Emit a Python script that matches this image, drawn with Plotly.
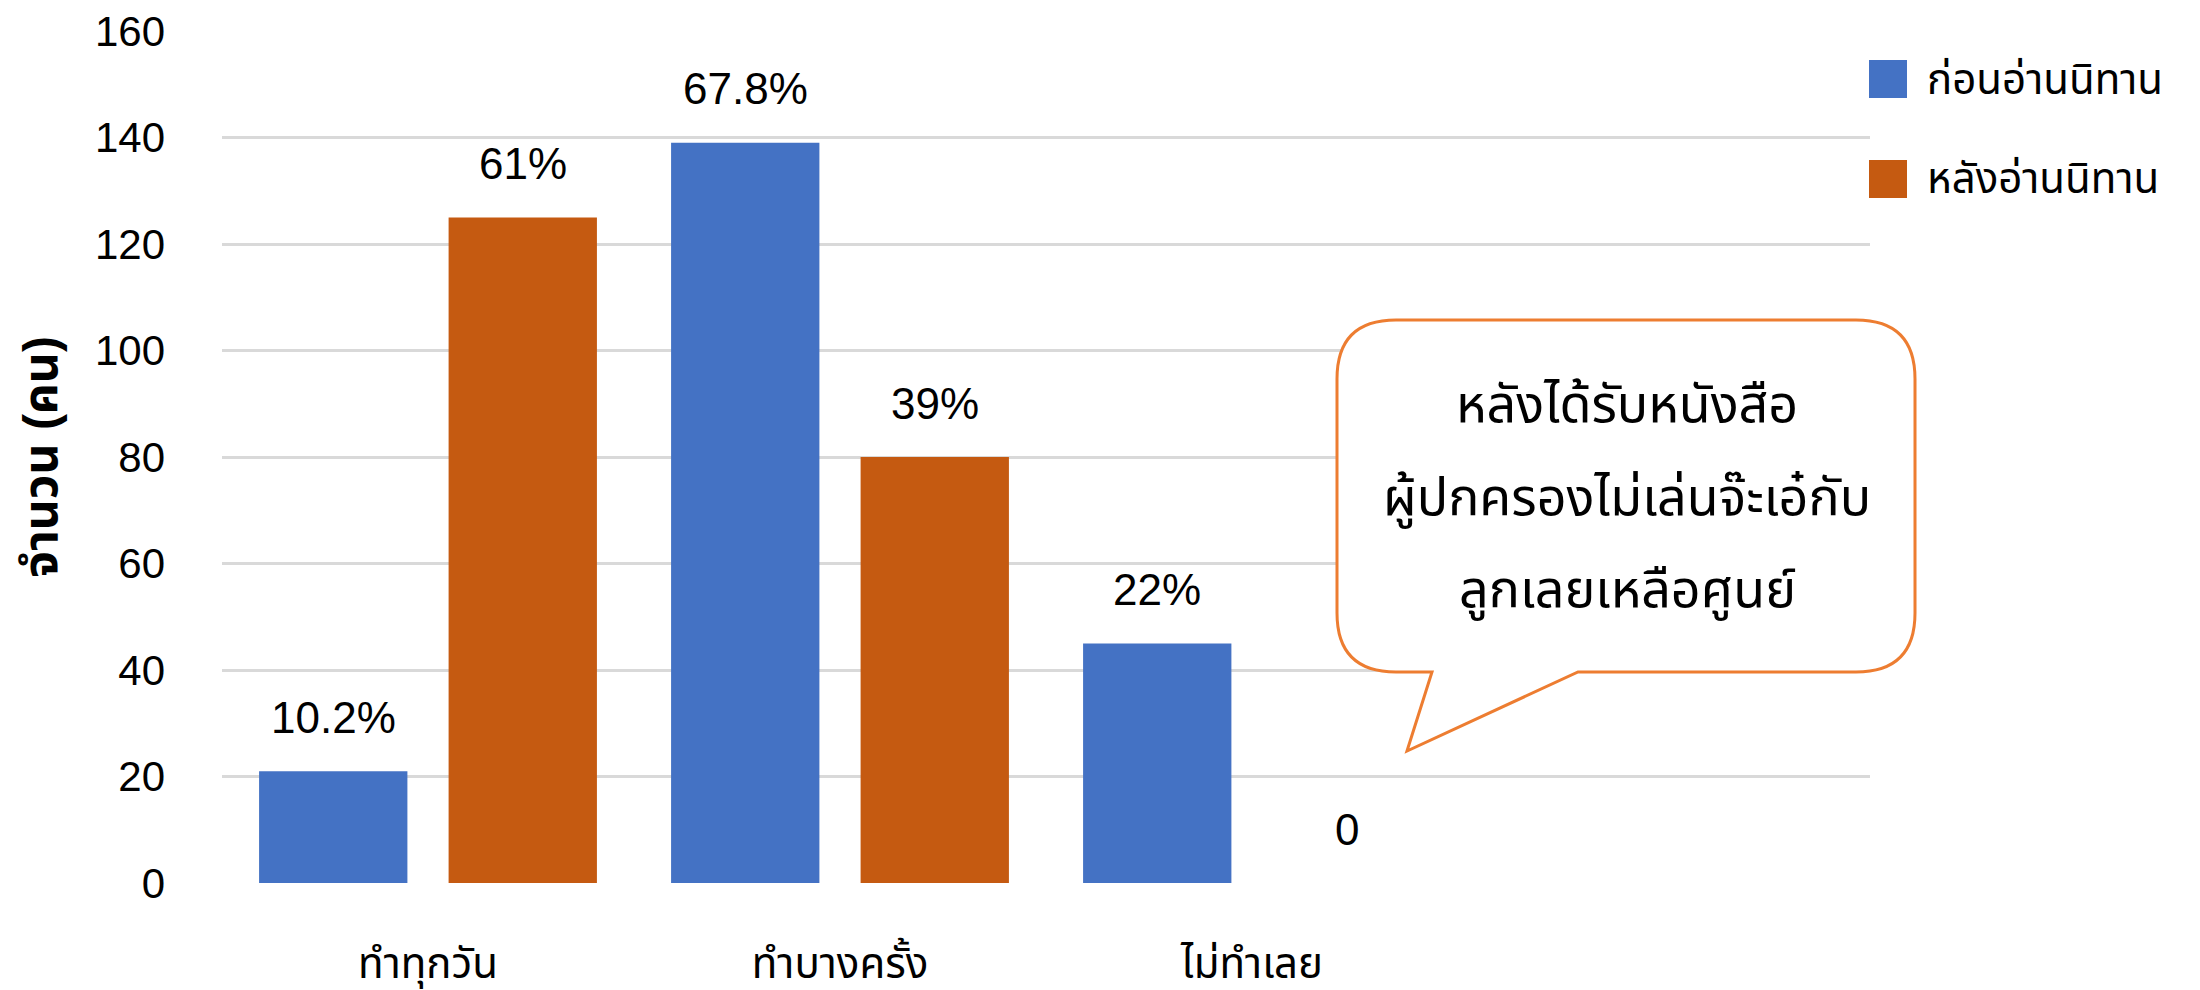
import plotly.graph_objects as go

# ---------------- data ----------------
categories = ["ทำทุกวัน", "ทำบางครั้ง", "ไม่ทำเลย"]
series_names = ["ก่อนอ่านนิทาน", "หลังอ่านนิทาน"]
before_values = [21, 139, 45]
after_values = [125, 80, 0]
before_labels = ["10.2%", "67.8%", "22%"]
after_labels = ["61%", "39%", "0"]
y_tick_values = [0, 20, 40, 60, 80, 100, 120, 140, 160]
y_title = "<b>จำนวน (คน)</b>"
callout_lines = ["หลังได้รับหนังสือ", "ผู้ปกครองไม่เล่นจ๊ะเอ๋กับ", "ลูกเลยเหลือศูนย์"]

# ---------------- style ----------------
W, H = 2200, 990
ML, MR, MT, MB = 222, 330, 31, 107
PW, PH = W - ML - MR, H - MT - MB
BLUE = "#4472C4"
ORANGE = "#C55A11"
CALLOUT = "#ED7D31"
GRID = "#D9D9D9"
FONT = "Liberation Sans, Noto Sans Thai, Noto Sans, sans-serif"
FS = 42

BAR_W = 0.36
OFF_BEFORE = -0.41
OFF_AFTER = 0.05


def px(x):
    return (x - ML) / PW


def py(y):
    return (H - MB - y) / PH


fig = go.Figure()
fig.add_trace(go.Bar(x=categories, y=before_values, name=series_names[0],
                     marker=dict(color=BLUE, line=dict(width=0)),
                     width=BAR_W, offset=OFF_BEFORE, showlegend=False))
fig.add_trace(go.Bar(x=categories, y=after_values, name=series_names[1],
                     marker=dict(color=ORANGE, line=dict(width=0)),
                     width=BAR_W, offset=OFF_AFTER, showlegend=False))

annotations = []
for i, (v, t) in enumerate(zip(before_values, before_labels)):
    annotations.append(dict(x=i + OFF_BEFORE + BAR_W / 2, y=v, xref="x", yref="y",
                            text=t, showarrow=False, yanchor="middle", yshift=54,
                            font=dict(size=FS + 2, color="#000000", family=FONT)))
for i, (v, t) in enumerate(zip(after_values, after_labels)):
    annotations.append(dict(x=i + OFF_AFTER + BAR_W / 2, y=v, xref="x", yref="y",
                            text=t, showarrow=False, yanchor="middle", yshift=54,
                            font=dict(size=FS + 2, color="#000000", family=FONT)))

# callout text
for line, yy in zip(callout_lines, [404, 499, 590]):
    annotations.append(dict(x=px(1627), y=py(yy), xref="paper", yref="paper",
                            text=line, showarrow=False, xanchor="center", yanchor="middle",
                            font=dict(size=52, color="#000000", family=FONT)))

# manual legend
shapes = []
for name, col, cy in zip(series_names, [BLUE, ORANGE], [79, 179]):
    shapes.append(dict(type="rect", xref="paper", yref="paper",
                       x0=px(1869), x1=px(1907), y0=py(cy + 19), y1=py(cy - 19),
                       fillcolor=col, line=dict(width=0)))
    annotations.append(dict(x=px(1925), y=py(cy), xref="paper", yref="paper",
                            text=name, showarrow=False, xanchor="left", yanchor="middle",
                            font=dict(size=FS, color="#000000", family=FONT)))

# callout bubble
L, R, T, B, r = 1337, 1915, 320, 672, 59
pts = [
    ("M", (L + r, T)), ("L", (R - r, T)), ("Q", (R, T), (R, T + r)),
    ("L", (R, B - r)), ("Q", (R, B), (R - r, B)),
    ("L", (1578, B)), ("L", (1407, 751)), ("L", (1432, B)),
    ("L", (L + r, B)), ("Q", (L, B), (L, B - r)),
    ("L", (L, T + r)), ("Q", (L, T), (L + r, T)),
]
path = ""
for seg in pts:
    cmd = seg[0]
    coords = " ".join(f"{px(a):.5f},{py(b):.5f}" for a, b in seg[1:])
    path += f"{cmd}{coords} "
path += "Z"
shapes.append(dict(type="path", xref="paper", yref="paper", path=path,
                   fillcolor="#FFFFFF", line=dict(color=CALLOUT, width=3)))

fig.update_layout(
    width=W, height=H,
    margin=dict(l=ML, r=MR, t=MT, b=MB, pad=0, autoexpand=False),
    paper_bgcolor="#FFFFFF", plot_bgcolor="#FFFFFF",
    font=dict(family=FONT, size=FS, color="#000000"),
    barmode="group",
    showlegend=False,
    annotations=annotations,
    shapes=shapes,
    xaxis=dict(type="category", categoryarray=categories, range=[-0.5, 3.5],
               showgrid=False, zeroline=False, showline=False, ticks="",
               automargin=False, ticklabelstandoff=52,
               tickfont=dict(size=FS, color="#000000", family=FONT)),
    yaxis=dict(range=[0, 160], tickvals=y_tick_values, showgrid=True,
               gridcolor=GRID, gridwidth=3, zeroline=False, showline=False,
               ticks="", automargin=False, ticklabelstandoff=56,
               tickfont=dict(size=FS, color="#000000", family=FONT),
               title=dict(text=y_title, standoff=22,
                          font=dict(size=48, color="#000000", family=FONT))),
)

fig.write_html("out.html",
               config={"displayModeBar": False},
               post_script="document.body.style.margin='0';document.body.style.overflow='hidden';")
